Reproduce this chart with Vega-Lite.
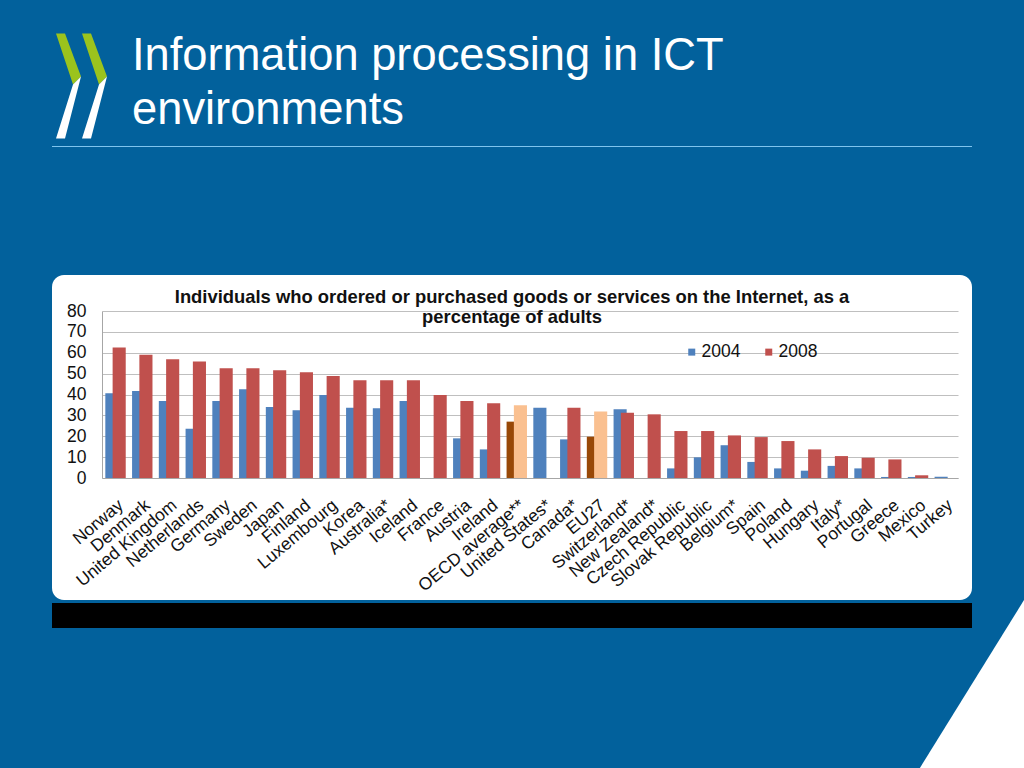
{
  "$schema": "https://vega.github.io/schema/vega-lite/v6.json",
  "background": "#02619C",
  "padding": {"left": 52, "top": 33, "right": 0, "bottom": 0},
  "config": {"view": {"stroke": null}, "font": "Liberation Sans"},
  "spacing": 128,
  "vconcat": [
    {
      "width": 920,
      "height": 1,
      "view": {"fill": "#7FC4EE", "stroke": null},
      "title": {
        "text": ["Information processing in ICT", "environments"],
        "anchor": "start",
        "frame": "group",
        "dx": 80,
        "offset": -99.5,
        "fontSize": 45.3,
        "lineHeight": 54,
        "font": "Liberation Sans",
        "fontWeight": "normal",
        "color": "#FFFFFF"
      },
      "data": {"values": [{"part": "logo"}]},
      "layer": [
        {
          "mark": {
            "type": "point",
            "shape": "M-456,-113L-447,-113L-431,-70L-439,-62ZM-430,-113L-421,-113L-405,-70L-413,-62Z",
            "size": 4,
            "filled": true,
            "fill": "#9BC31D",
            "opacity": 1,
            "strokeWidth": 0
          },
          "encoding": {}
        },
        {
          "mark": {
            "type": "point",
            "shape": "M-439,-62L-431,-70L-447,-8L-456,-8ZM-413,-62L-405,-70L-421,-8L-430,-8Z",
            "size": 4,
            "filled": true,
            "fill": "#FFFFFF",
            "opacity": 1,
            "strokeWidth": 0
          },
          "encoding": {}
        }
      ]
    },
    {
      "spacing": 0,
      "vconcat": [
        {
          "width": 920,
          "height": 325,
          "view": {"fill": "#FFFFFF", "stroke": null, "cornerRadius": 12},
          "title": {
            "text": ["Individuals who ordered or purchased goods or services on the Internet, as a", "percentage of adults"],
            "anchor": "middle",
            "frame": "group",
            "offset": -51,
            "fontSize": 18.4,
            "lineHeight": 19.5,
            "font": "Liberation Sans",
            "fontWeight": "bold",
            "color": "#111111"
          },
          "data": {
            "values": [
              {"country": "Norway", "year": 2004, "series": "2004", "value": 40.6},
              {"country": "Norway", "year": 2008, "series": "2008", "value": 62.5},
              {"country": "Denmark", "year": 2004, "series": "2004", "value": 41.7},
              {"country": "Denmark", "year": 2008, "series": "2008", "value": 59.0},
              {"country": "United Kingdom", "year": 2004, "series": "2004", "value": 36.9},
              {"country": "United Kingdom", "year": 2008, "series": "2008", "value": 56.9},
              {"country": "Netherlands", "year": 2004, "series": "2004", "value": 23.6},
              {"country": "Netherlands", "year": 2008, "series": "2008", "value": 55.8},
              {"country": "Germany", "year": 2004, "series": "2004", "value": 36.9},
              {"country": "Germany", "year": 2008, "series": "2008", "value": 52.6},
              {"country": "Sweden", "year": 2004, "series": "2004", "value": 42.5},
              {"country": "Sweden", "year": 2008, "series": "2008", "value": 52.6},
              {"country": "Japan", "year": 2004, "series": "2004", "value": 34.0},
              {"country": "Japan", "year": 2008, "series": "2008", "value": 51.6},
              {"country": "Finland", "year": 2004, "series": "2004", "value": 32.4},
              {"country": "Finland", "year": 2008, "series": "2008", "value": 50.6},
              {"country": "Luxembourg", "year": 2004, "series": "2004", "value": 39.8},
              {"country": "Luxembourg", "year": 2008, "series": "2008", "value": 48.9},
              {"country": "Korea", "year": 2004, "series": "2004", "value": 33.7},
              {"country": "Korea", "year": 2008, "series": "2008", "value": 46.8},
              {"country": "Australia*", "year": 2004, "series": "2004", "value": 33.4},
              {"country": "Australia*", "year": 2008, "series": "2008", "value": 46.8},
              {"country": "Iceland", "year": 2004, "series": "2004", "value": 36.9},
              {"country": "Iceland", "year": 2008, "series": "2008", "value": 46.8},
              {"country": "France", "year": 2008, "series": "2008", "value": 39.8},
              {"country": "Austria", "year": 2004, "series": "2004", "value": 19.0},
              {"country": "Austria", "year": 2008, "series": "2008", "value": 36.9},
              {"country": "Ireland", "year": 2004, "series": "2004", "value": 13.7},
              {"country": "Ireland", "year": 2008, "series": "2008", "value": 35.8},
              {"country": "OECD average**", "year": 2004, "series": "Average 2004", "value": 27.0},
              {"country": "OECD average**", "year": 2008, "series": "Average 2008", "value": 34.8},
              {"country": "United States*", "year": 2004, "series": "2004", "value": 33.7},
              {"country": "Canada*", "year": 2004, "series": "2004", "value": 18.5},
              {"country": "Canada*", "year": 2008, "series": "2008", "value": 33.7},
              {"country": "EU27", "year": 2004, "series": "Average 2004", "value": 19.8},
              {"country": "EU27", "year": 2008, "series": "Average 2008", "value": 31.8},
              {"country": "Switzerland*", "year": 2004, "series": "2004", "value": 32.9},
              {"country": "Switzerland*", "year": 2008, "series": "2008", "value": 31.3},
              {"country": "New Zealand*", "year": 2008, "series": "2008", "value": 30.5},
              {"country": "Czech Republic", "year": 2004, "series": "2004", "value": 4.6},
              {"country": "Czech Republic", "year": 2008, "series": "2008", "value": 22.5},
              {"country": "Slovak Republic", "year": 2004, "series": "2004", "value": 9.9},
              {"country": "Slovak Republic", "year": 2008, "series": "2008", "value": 22.5},
              {"country": "Belgium*", "year": 2004, "series": "2004", "value": 15.7},
              {"country": "Belgium*", "year": 2008, "series": "2008", "value": 20.4},
              {"country": "Spain", "year": 2004, "series": "2004", "value": 7.7},
              {"country": "Spain", "year": 2008, "series": "2008", "value": 19.6},
              {"country": "Poland", "year": 2004, "series": "2004", "value": 4.6},
              {"country": "Poland", "year": 2008, "series": "2008", "value": 17.7},
              {"country": "Hungary", "year": 2004, "series": "2004", "value": 3.5},
              {"country": "Hungary", "year": 2008, "series": "2008", "value": 13.7},
              {"country": "Italy*", "year": 2004, "series": "2004", "value": 5.8},
              {"country": "Italy*", "year": 2008, "series": "2008", "value": 10.5},
              {"country": "Portugal", "year": 2004, "series": "2004", "value": 4.6},
              {"country": "Portugal", "year": 2008, "series": "2008", "value": 9.7},
              {"country": "Greece", "year": 2004, "series": "2004", "value": 0.5},
              {"country": "Greece", "year": 2008, "series": "2008", "value": 8.9},
              {"country": "Mexico", "year": 2004, "series": "2004", "value": 0.5},
              {"country": "Mexico", "year": 2008, "series": "2008", "value": 1.3},
              {"country": "Turkey", "year": 2004, "series": "2004", "value": 0.6}
            ]
          },
          "encoding": {
            "x": {
              "field": "country",
              "type": "nominal",
              "sort": null,
              "scale": {
                "domain": ["Norway", "Denmark", "United Kingdom", "Netherlands", "Germany", "Sweden", "Japan", "Finland", "Luxembourg", "Korea", "Australia*", "Iceland", "France", "Austria", "Ireland", "OECD average**", "United States*", "Canada*", "EU27", "Switzerland*", "New Zealand*", "Czech Republic", "Slovak Republic", "Belgium*", "Spain", "Poland", "Hungary", "Italy*", "Portugal", "Greece", "Mexico", "Turkey"],
                "range": [50, 906],
                "paddingInner": 0,
                "paddingOuter": 0
              },
              "axis": {
                "title": null,
                "offset": -122,
                "labelAngle": -40,
                "labelFontSize": 17.5,
                "labelFont": "Liberation Sans",
                "labelColor": "#111111",
                "labelPadding": 18,
                "labelOverlap": false,
                "labelLimit": 0,
                "labelBound": false,
                "ticks": false,
                "grid": false,
                "domainColor": "#A6A6A6",
                "domainWidth": 1
              }
            },
            "y": {
              "field": "value",
              "type": "quantitative",
              "scale": {"domain": [0, 80], "range": [203, 36], "nice": false, "zero": true},
              "axis": {
                "title": null,
                "offset": -50,
                "values": [0, 10, 20, 30, 40, 50, 60, 70, 80],
                "labelFontSize": 17.5,
                "labelFont": "Liberation Sans",
                "labelColor": "#111111",
                "labelPadding": 16,
                "ticks": false,
                "grid": true,
                "gridColor": "#BFBFBF",
                "gridWidth": 1,
                "domainColor": "#A6A6A6",
                "domainWidth": 1
              }
            },
            "color": {
              "field": "series",
              "type": "nominal",
              "scale": {
                "domain": ["2004", "2008", "Average 2004", "Average 2008"],
                "range": ["#4F81BD", "#C0504D", "#984807", "#FAC090"]
              },
              "legend": {
                "values": ["2004", "2008"],
                "title": null,
                "orient": "none",
                "legendX": 631,
                "legendY": 197,
                "direction": "horizontal",
                "symbolType": "square",
                "symbolSize": 49,
                "symbolStrokeWidth": 0,
                "labelFontSize": 17.5,
                "labelFont": "Liberation Sans",
                "labelColor": "#111111",
                "labelOffset": 1,
                "columnPadding": 19,
                "padding": 0
              }
            }
          },
          "layer": [
            {
              "transform": [{"filter": "datum.year == 2004"}],
              "mark": {"type": "bar", "width": {"band": 0.49}, "xOffset": -3.5}
            },
            {
              "transform": [{"filter": "datum.year == 2008"}],
              "mark": {"type": "bar", "width": {"band": 0.49}, "xOffset": 3.8}
            }
          ]
        },
        {
          "width": 920,
          "height": 25,
          "view": {"fill": "#000000", "stroke": null},
          "data": {"values": [{"part": "corner"}]},
          "mark": {
            "type": "point",
            "shape": "M406,155.5L512,155.5L512,-15.5Z",
            "size": 4,
            "filled": true,
            "fill": "#FFFFFF",
            "opacity": 1,
            "strokeWidth": 0
          },
          "encoding": {}
        }
      ]
    }
  ]
}
